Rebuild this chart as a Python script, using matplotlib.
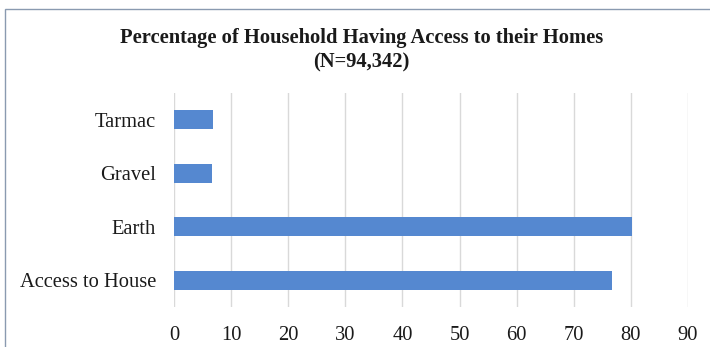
import matplotlib
matplotlib.use("Agg")
import matplotlib.pyplot as plt
from matplotlib.patches import Rectangle

categories = ["Access to House", "Earth", "Gravel", "Tarmac"]
percentages = [76.7, 80.2, 6.7, 6.8]
x_ticks = [0, 10, 20, 30, 40, 50, 60, 70, 80, 90]

plt.rcParams["font.family"] = ["Liberation Serif", "DejaVu Serif"]
text_color = "#1a1a1a"
bar_color = "#5588d0"
grid_color = "#d9d9d9"

W, H = 710, 347
fig = plt.figure(figsize=(W / 100, H / 100), dpi=100)
fig.patch.set_facecolor("white")

# chart-area border (extends past the right and bottom edges)
fig.patches.append(Rectangle((4.5 / W, -0.2), 2.0, 1.2 - 9.5 / H,
                             transform=fig.transFigure, fill=False,
                             edgecolor="#8a9ab0", linewidth=1.0))

ax = fig.add_axes([174 / W, (H - 307) / H, (688 - 174) / W, (307 - 93) / H])
ypos = list(range(len(categories)))
ax.barh(ypos, percentages, height=0.355, color=bar_color, zorder=3)

ax.set_xlim(0, 90)
ax.set_ylim(-0.5, len(categories) - 0.5)
ax.set_xticks(x_ticks)
ax.set_xticklabels([str(t) for t in x_ticks])
ax.set_yticks(ypos)
ax.set_yticklabels(categories)
ax.xaxis.grid(True, color=grid_color, linewidth=1.0, zorder=0)
ax.tick_params(axis="both", length=0, labelsize=14.8, colors=text_color)
ax.tick_params(axis="x", pad=13.5)
ax.tick_params(axis="y", pad=13)
for s in ax.spines.values():
    s.set_visible(False)

fig.text(362 / W, 1 - 43.5 / H, "Percentage of Household Having Access to their Homes",
         ha="center", va="baseline", fontsize=14.8, fontweight="bold", color=text_color)
fig.text(361 / W, 1 - 67.5 / H, "(N=94,342)",
         ha="center", va="baseline", fontsize=14.8, fontweight="bold", color=text_color)

fig.savefig("out.png", dpi=100, facecolor="white")
